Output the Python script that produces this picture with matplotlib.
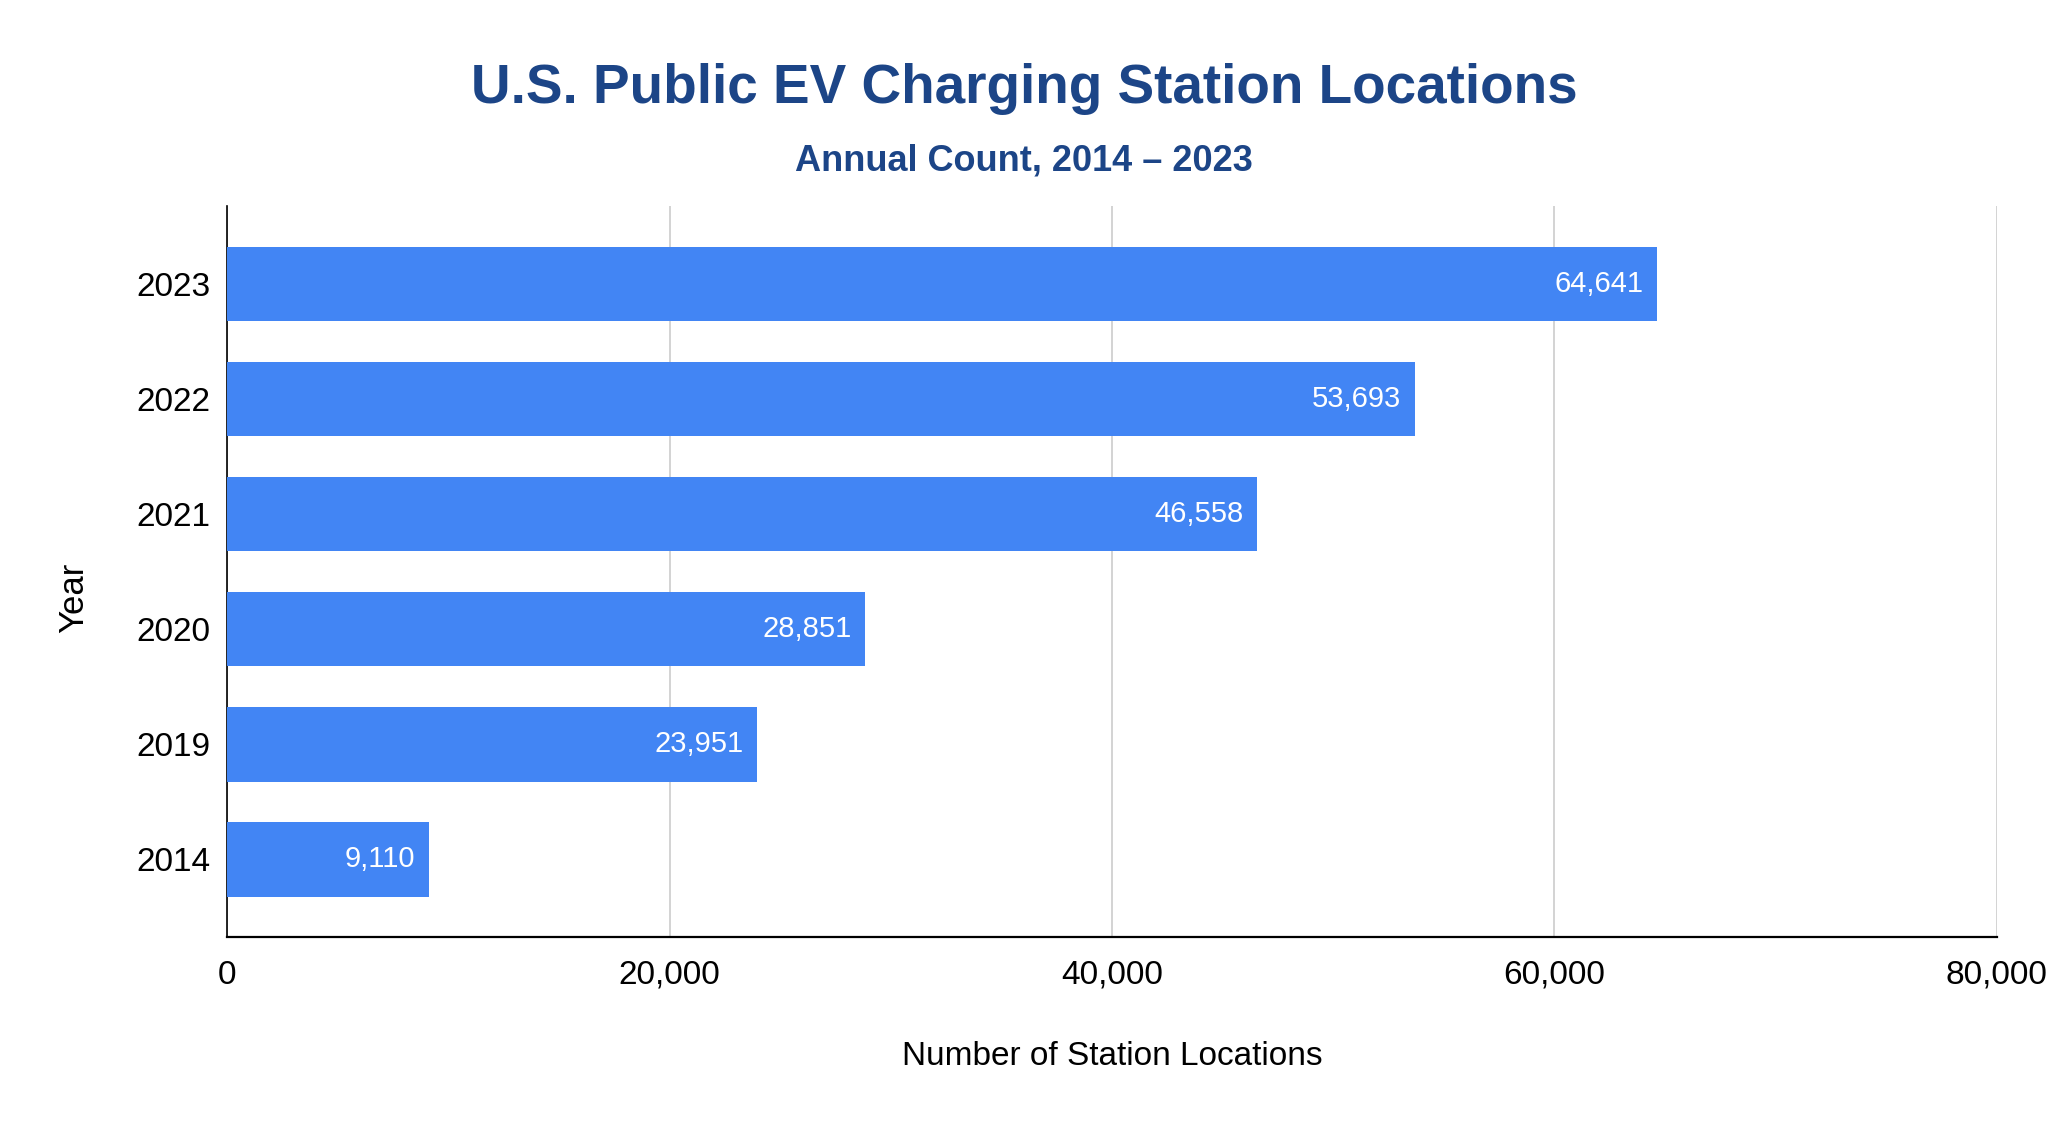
import matplotlib
matplotlib.use("Agg")
import matplotlib.pyplot as plt
from matplotlib.ticker import FuncFormatter

plt.rcParams["font.family"] = ["Liberation Sans", "DejaVu Sans"]

years = ["2014", "2019", "2020", "2021", "2022", "2023"]
stations = [9110, 23951, 28851, 46558, 53693, 64641]
x_ticks = [0, 20000, 40000, 60000, 80000]

TITLE = "U.S. Public EV Charging Station Locations"
SUBTITLE = "Annual Count, 2014 \u2013 2023"
BAR_COLOR = "#4285f4"
TITLE_COLOR = "#1c4587"

fig = plt.figure(figsize=(20.48, 11.24), dpi=100, facecolor="white")
ax = fig.add_axes([0.111, 0.166, 0.864, 0.651])

pos = list(range(len(years)))
ax.barh(pos, stations, height=0.65, color=BAR_COLOR, zorder=3)

for i, v in enumerate(stations):
    ax.annotate(f"{v:,}", xy=(v, i), xytext=(-10, 0), textcoords="offset points",
                ha="right", va="center", color="white", fontsize=21, zorder=4)

ax.set_xlim(0, 80000)
ax.set_ylim(-0.68, len(years) - 1 + 0.68)
ax.set_xticks(x_ticks)
ax.xaxis.set_major_formatter(FuncFormatter(lambda x, p: f"{int(x):,}"))
ax.set_yticks(pos)
ax.set_yticklabels(years)
ax.tick_params(axis="both", length=0, labelsize=24)
ax.tick_params(axis="x", pad=16)
ax.tick_params(axis="y", pad=12)

ax.grid(axis="x", color="#cccccc", lw=1.2, zorder=0)
for s in ["top", "right"]:
    ax.spines[s].set_visible(False)
ax.spines["left"].set_color("black")
ax.spines["bottom"].set_color("black")
ax.spines["left"].set_linewidth(1.2)
ax.spines["bottom"].set_linewidth(1.6)

ax.set_ylabel("Year", fontsize=25)
ax.yaxis.set_label_coords(-0.0775, 0.464)
ax.set_xlabel("Number of Station Locations", fontsize=24)
ax.xaxis.set_label_coords(0.5, -0.1625)
ax.xaxis.label.set_va("center")

fig.text(0.5, 0.921, TITLE, ha="center", va="center", fontsize=39.5,
         fontweight="bold", color=TITLE_COLOR)
fig.text(0.5, 0.857, SUBTITLE, ha="center", va="center", fontsize=26,
         fontweight="bold", color=TITLE_COLOR)

fig.savefig("out.png", dpi=100, facecolor="white")
